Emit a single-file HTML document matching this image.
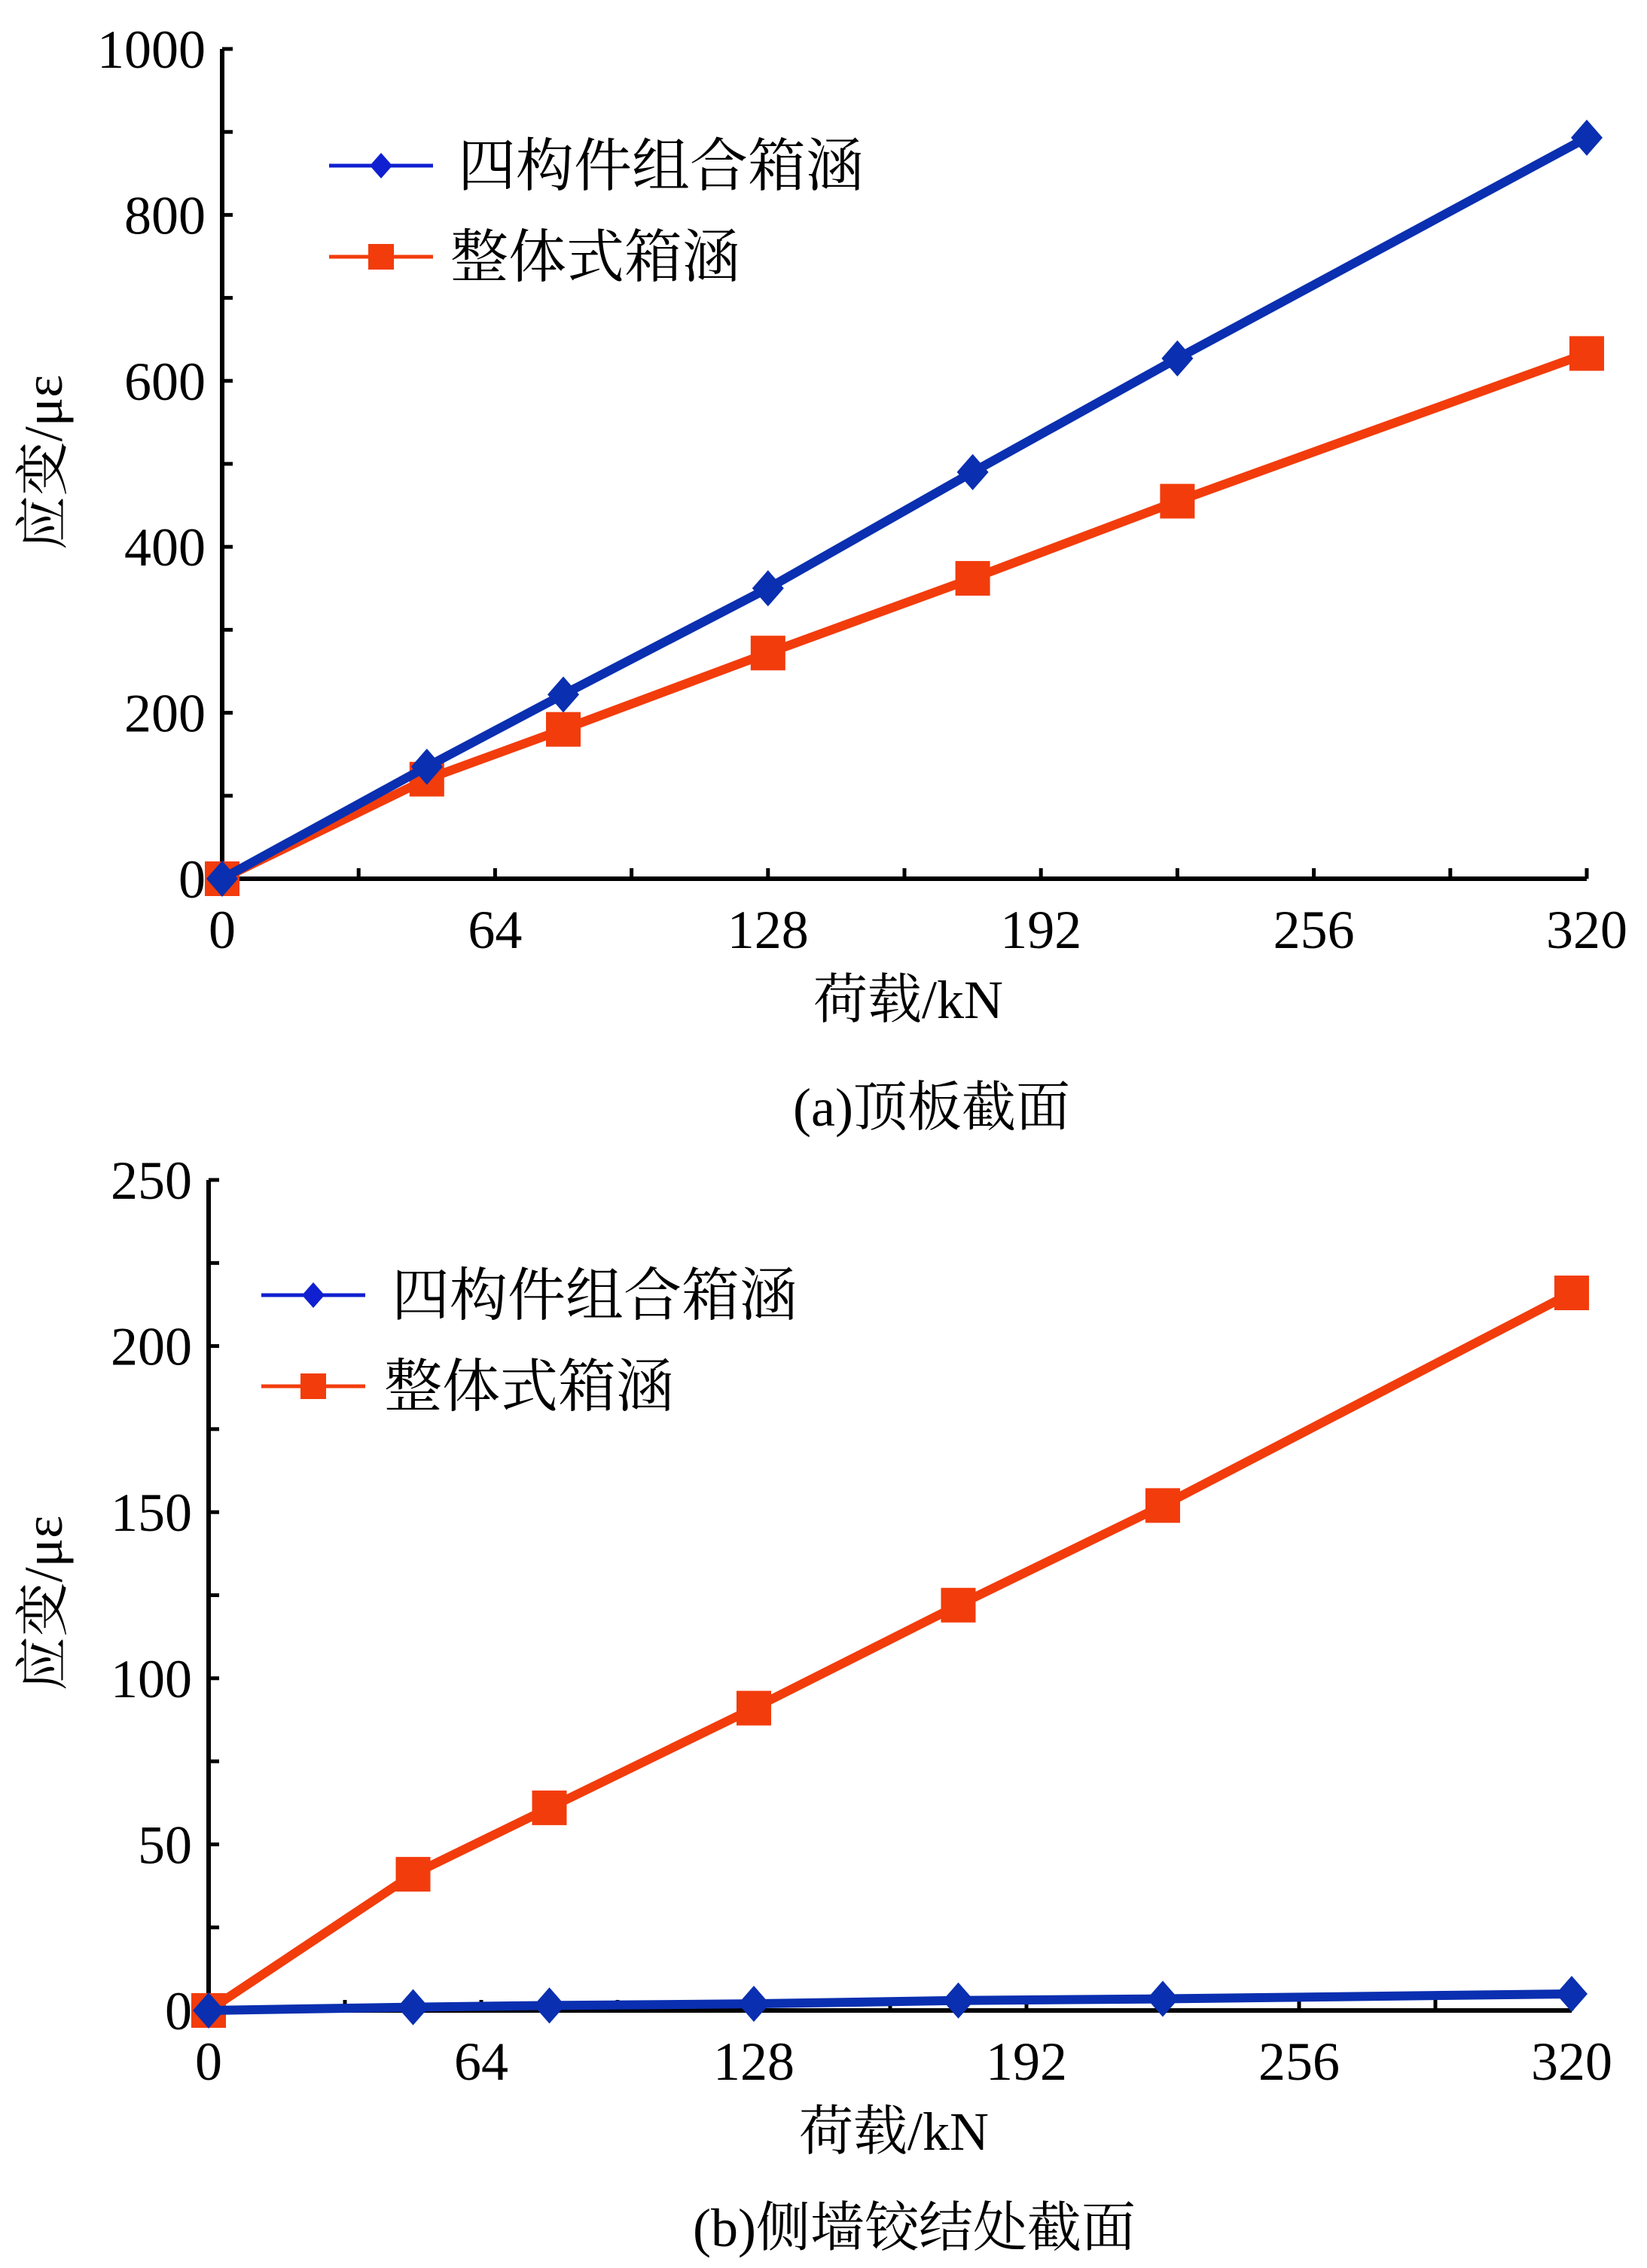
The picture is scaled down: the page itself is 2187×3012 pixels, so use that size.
<!DOCTYPE html>
<html><head><meta charset="utf-8"><style>
body{margin:0;background:#fff}
svg text{font-family:"Liberation Serif","Noto Serif CJK SC","Noto Sans CJK SC",serif;fill:#000}
</style></head><body>
<svg id="s" width="2187" height="3007" viewBox="0 0 2187 3007" xmlns="http://www.w3.org/2000/svg"></svg>
<script>
const xCats=[0,48,80,128,176,224,320];
const xTicks=[0,64,128,192,256,320];
const topBlue=[0,135,222,350,490,627,893];
const topOrange=[0,120,180,272,362,455,633];
const topYTicks=[0,200,400,600,800,1000];
const botBlue=[0,1,1.5,2,3,3.5,5];
const botOrange=[0,41,61,91,122,152,216];
const botYTicks=[0,50,100,150,200,250];
const NS="http://www.w3.org/2000/svg";
const svg=document.getElementById('s');
function mk(t,a,p){const e=document.createElementNS(NS,t);for(const k in a)e.setAttribute(k,a[k]);(p||svg).appendChild(e);return e;}
const BLUE='#0a2fb0',ORANGE='#f23c0c';
function chart(o){
  const g=mk('g',{});
  
  
  const sx=v=>o.x0+(v/320)*(o.x1-o.x0);
  const sy=v=>o.y0-(v/o.ymax)*(o.y0-o.y1);
  let ax=mk('path',{d:`M${o.x0} ${o.y1}V${o.y0}H${sx(320)}`,stroke:'#000','stroke-width':6,fill:'none'},g);
  
  const ystep=o.ymax/10;
  for(let v=0;v<=o.ymax+1e-9;v+=ystep){mk('line',{x1:o.x0,x2:o.x0+14,y1:sy(v),y2:sy(v),stroke:'#000','stroke-width':5},g);}
  for(let v=0;v<=320;v+=32){mk('line',{x1:sx(v),x2:sx(v),y1:o.y0,y2:o.y0-14,stroke:'#000','stroke-width':5},g);}
  o.yt.forEach(v=>{const t=mk('text',{x:o.x0-22,y:sy(v)+25,'font-size':72,'text-anchor':'end'},g);t.textContent=v;});
  xTicks.forEach(v=>{const t=mk('text',{x:sx(v),y:o.y0+92,'font-size':72,'text-anchor':'middle'},g);t.textContent=v;});
  function series(vals,col,kind,nm){
    const pl=mk('polyline',{points:vals.map((v,i)=>sx(xCats[i])+','+sy(v)).join(' '),stroke:col,'stroke-width':12,fill:'none','stroke-linejoin':'round'},g);
    
    vals.forEach((v,i)=>{const x=sx(xCats[i]),y=sy(v);let m;
      if(kind==='d')m=mk('polygon',{points:`${x},${y-24} ${x+21},${y} ${x},${y+24} ${x-21},${y}`,fill:col},g);
      else m=mk('rect',{x:x-23,y:y-23,width:46,height:46,fill:col},g);
      });
  }
  series(o.o,ORANGE,'s','orange-series');
  series(o.b,BLUE,'d','blue-series');
  const L=o.leg;
  const lg=mk('g',{},g);
  mk('line',{x1:L.x,x2:L.x+138,y1:L.y,y2:L.y,stroke:'#1020d0','stroke-width':5},lg);
  mk('polygon',{points:`${L.x+69},${L.y-17} ${L.x+84},${L.y} ${L.x+69},${L.y+17} ${L.x+54},${L.y}`,fill:'#1020d0'},lg);
  let t=mk('text',{x:L.tx,y:L.y+27,'font-size':77},lg);t.textContent='四构件组合箱涵';
  mk('line',{x1:L.x,x2:L.x+138,y1:L.y+121,y2:L.y+121,stroke:ORANGE,'stroke-width':5},lg);
  mk('rect',{x:L.x+52,y:L.y+104,width:34,height:34,fill:ORANGE},lg);
  t=mk('text',{x:L.tx-10,y:L.y+148,'font-size':77},lg);t.textContent='整体式箱涵';
  t=mk('text',{x:(o.x0+sx(320))/2+5,y:o.y0+185,'font-size':72,'text-anchor':'middle'},g);t.textContent='荷载/kN';
  t=mk('text',{x:0,y:0,'font-size':72,'text-anchor':'middle',transform:`translate(82 ${o.yl}) rotate(-90)`},g);t.textContent='应变/με';
  t=mk('text',{x:o.cx,y:o.cy,'font-size':72,'text-anchor':'middle'},g);t.textContent=o.cap;
}
chart({name:'chart-a',x0:295,x1:2107,y0:1167,y1:65,ymax:1000,yt:topYTicks,b:topBlue,o:topOrange,leg:{x:437,y:220,tx:608},yl:614,cap:'(a)顶板截面',cx:1237,cy:1495});
chart({name:'chart-b',x0:277,x1:2087,y0:2670,y1:1567,ymax:250,yt:botYTicks,b:botBlue,o:botOrange,leg:{x:347,y:1720,tx:520},yl:2129,cap:'(b)侧墙铰结处截面',cx:1214,cy:2983});
</script>
</body></html>
